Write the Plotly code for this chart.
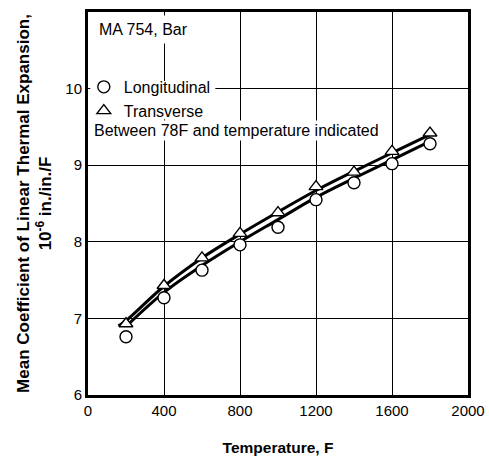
import plotly.graph_objects as go

# Mean CTE between 78F and the indicated temperature, MA 754 bar
temp_pts = [200, 400, 600, 800, 1000, 1200, 1400, 1600, 1800]
longitudinal = [6.76, 7.27, 7.63, 7.96, 8.19, 8.55, 8.77, 9.02, 9.28]
transverse = [6.93, 7.43, 7.79, 8.11, 8.38, 8.72, 8.91, 9.18, 9.42]

# Faired curves through each data set
upper_x = [160, 200, 400, 600, 800, 1000, 1200, 1400, 1600, 1800]
upper_y = [6.90, 6.97, 7.42, 7.79, 8.10, 8.39, 8.67, 8.92, 9.16, 9.40]
lower_x = [215, 400, 600, 800, 1000, 1200, 1400, 1600, 1800]
lower_y = [6.93, 7.34, 7.69, 8.00, 8.29, 8.58, 8.83, 9.07, 9.31]

x_ticks = [0, 400, 800, 1200, 1600, 2000]
y_ticks = [6, 7, 8, 9, 10]

FONT = "Liberation Sans, Arial, sans-serif"

fig = go.Figure()

for cx, cy in [(upper_x, upper_y), (lower_x, lower_y)]:
    fig.add_trace(go.Scatter(
        x=cx, y=cy, mode="lines", showlegend=False, hoverinfo="skip",
        line=dict(color="black", width=3, shape="spline", smoothing=1.0),
    ))

fig.add_trace(go.Scatter(
    x=temp_pts, y=longitudinal, mode="markers", name="Longitudinal",
    marker=dict(symbol="circle", size=12, color="white",
                line=dict(color="black", width=1.4)),
))
fig.add_trace(go.Scatter(
    x=temp_pts, y=transverse, mode="markers", name="Transverse",
    marker=dict(symbol="triangle-up", size=12, color="white",
                line=dict(color="black", width=1.4)),
))

# White panel behind the key so the grid does not run through it
fig.add_shape(
    type="rect", xref="paper", yref="paper",
    x0=0.006, x1=0.335, y0=0.72, y1=0.82,
    fillcolor="white", line=dict(width=0), layer="above",
)

fig.add_annotation(
    x=0.012, y=0.955, xref="paper", yref="paper", xanchor="left", yanchor="middle",
    text="MA 754, Bar", showarrow=False, bgcolor="white", borderpad=5,
    font=dict(family=FONT, size=16, color="black"),
)
fig.add_annotation(
    x=0.01, y=0.690, xref="paper", yref="paper", xanchor="left", yanchor="middle",
    text="Between 78F and temperature indicated", showarrow=False, bgcolor="white",
    font=dict(family=FONT, size=16, color="black"),
)

fig.update_layout(
    width=489, height=462,
    margin=dict(l=88, r=21, t=12, b=67),
    paper_bgcolor="white", plot_bgcolor="white",
    font=dict(family=FONT, size=15, color="black"),
    legend=dict(
        x=-0.011, y=0.773, xanchor="left", yanchor="middle",
        bgcolor="rgba(0,0,0,0)", borderwidth=0, itemwidth=30,
        font=dict(family=FONT, size=16, color="black"),
        tracegroupgap=0,
    ),
    xaxis=dict(
        range=[0, 2000], tickvals=x_ticks, ticks="", ticklen=0,
        showgrid=True, gridcolor="black", gridwidth=1.3,
        showline=True, linecolor="black", linewidth=3, mirror=True,
        zeroline=False, automargin=False,
        title=dict(text="<b>Temperature, F</b>", standoff=25,
                   font=dict(family=FONT, size=15.5)),
        tickfont=dict(family=FONT, size=15),
    ),
    yaxis=dict(
        range=[6, 11], tickvals=y_ticks, ticks="", ticklen=0,
        showgrid=True, gridcolor="black", gridwidth=1.3,
        showline=True, linecolor="black", linewidth=3, mirror=True,
        zeroline=False, automargin=False,
        title=dict(text="<b>Mean Coefficient of Linear Thermal Expansion,<br>10<sup>-6</sup> in./in./F</b>",
                   standoff=10, font=dict(family=FONT, size=17)),
        tickfont=dict(family=FONT, size=15),
    ),
)

fig.write_html("out.html")
